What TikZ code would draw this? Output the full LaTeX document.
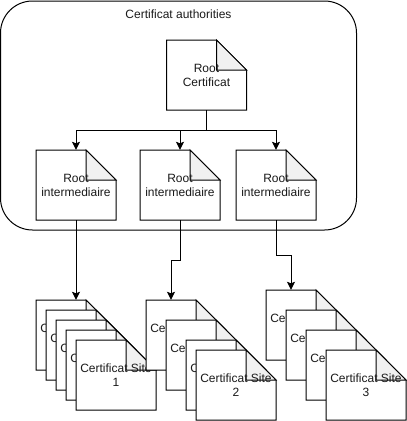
\documentclass[tikz,border=0pt]{standalone}
\usepackage{fontspec}
\setmainfont{Liberation Sans}
\usetikzlibrary{arrows.meta}
\definecolor{foldgray}{RGB}{241,241,241}
\definecolor{txt}{RGB}{26,26,26}
\tikzset{
  notebody/.style={draw=black, fill=white, line width=1pt, line join=miter},
  notefold/.style={draw=black, fill=foldgray, line width=1pt, line join=miter},
  notetext/.style={minimum width=80pt, minimum height=70pt, inner sep=0pt, align=center,
    text=txt, font=\fontsize{12}{14}\selectfont},
  container/.style={draw=black, line width=1pt, rounded corners=32pt, minimum width=356pt,
    minimum height=229pt, inner sep=0pt},
  titletext/.style={text=txt, font=\fontsize{12}{14}\selectfont, inner sep=0pt},
  arr/.style={draw=black, line width=1pt, -{Stealth[length=8pt,width=8pt,inset=1.5pt]}},
}
\newcommand\notepage[4]{%
  \path[notebody] (#2,#3) -- ++(50,0) -- ++(30,30) -- ++(0,40) -- ++(-80,0) -- cycle;
  \path[notefold] (#2+50,#3) -- ++(0,30) -- ++(30,0) -- cycle;
  \node[notetext] (#1) at (#2+40,#3+35) {#4};
}
\begin{document}
\begin{tikzpicture}[x=1pt,y=-1pt]
\useasboundingbox (0,0) rectangle (407,421);
\node[container] (ca) at (178.5,115.5) {};
\node[titletext] (title) at (178.5,14) {Certificat authorities};
\notepage{root}{166.5}{40}{Root\\Certificat}
\notepage{ia}{36}{150}{Root\\intermediaire}
\notepage{ib}{140}{150}{Root\\intermediaire}
\notepage{ic}{236}{150}{Root\\intermediaire}
\draw[arr] (root.south) -- ++(0,20) -| (ia.north);
\draw[arr] (root.south) -- ++(0,20) -| (ib.north);
\draw[arr] (root.south) -- ++(0,20) -| (ic.north);
% stack 1
\notepage{sa1}{36}{300}{Certificat Site\\1}
\notepage{sa2}{46}{310}{Certificat Site\\1}
\notepage{sa3}{56}{320}{Certificat Site\\1}
\notepage{sa4}{66}{330}{Certificat Site\\1}
\notepage{sa5}{76}{340}{Certificat Site\\1}
% stack 2
\notepage{sb1}{146}{300}{Certificat Site\\2}
\notepage{sb2}{166}{320}{Certificat Site\\2}
\notepage{sb3}{186}{340}{Certificat Site\\2}
\notepage{sb4}{196}{350}{Certificat Site\\2}
% stack 3
\notepage{sc1}{266}{290}{Certificat Site\\3}
\notepage{sc2}{286}{310}{Certificat Site\\3}
\notepage{sc3}{306}{330}{Certificat Site\\3}
\notepage{sc4}{326}{350}{Certificat Site\\3}
% connectors
\draw[arr] (ia.south) -- (sa1.north);
\draw[arr] (ib.south) -- ++(0,40) -| ([xshift=-15pt]sb1.north);
\draw[arr] (ic.south) -- ++(0,35) -| ([xshift=-15pt]sc1.north);
\end{tikzpicture}
\end{document}
